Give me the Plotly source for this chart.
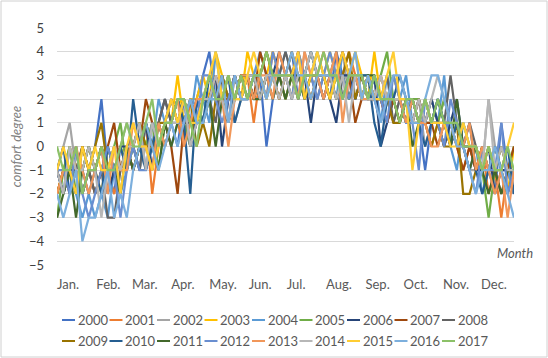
import plotly.graph_objects as go

# day-of-year sampling (every 5 days)
DAYS = list(range(1, 366, 5))  # 73 samples

MONTH_LABELS = ["Jan.", "Feb.", "Mar.", "Apr.", "May.", "Jun.", "Jul.", "Aug.", "Sep.", "Oct.", "Nov.", "Dec."]
MONTH_START = [1, 32, 60, 91, 121, 152, 182, 213, 244, 274, 305, 335]
Y_TICKS = [-5, -4, -3, -2, -1, 0, 1, 2, 3, 4, 5]

YEARS = [str(y) for y in range(2000, 2018)]
COLORS = ["#4472C4", "#ED7D31", "#A5A5A5", "#FFC000", "#5B9BD5", "#70AD47",
          "#264478", "#9E480E", "#636363", "#997300", "#255E91", "#43682B",
          "#698ED0", "#F1975A", "#B7B7B7", "#FFCD33", "#7CAFDD", "#8CC168"]

y2000 = [-1,-2,0,-1,-2,-1, 0,2,-1,-2,0,-1, 0,1,-1,0,1,0, 1,0,2,1,2,3, 4,2,3,1,2,3, 3,2,3,0,2,3,
         3,4,2,3,4,3, 3,2,4,3,3,2, 3,2,2,1,2,3, 2,1,2,1,-1,1, 2,1,0,1,0,-1, 0,-1,-1,-2,1,-1,-2]
y2001 = [-2,-1,-1,0,-2,-1, -1,0,-1,-2,-1,0, -1,0,1,-2,0,1, 2,1,0,2,1,2, 2,3,2,1,3,2, 3,1,3,2,4,3,
         2,3,4,3,2,3, 4,3,2,3,4,3, 2,3,2,2,1,2, 1,2,1,2,1,0, 1,0,1,0,-1,0, -1,0,-2,-1,-3,-1,-2]
y2002 = [-1,0,1,-1,-2,-1, -2,-1,0,-1,0,1, 0,-1,0,1,0,1, 1,2,1,0,1,2, 3,2,2,3,1,2, 2,3,3,4,3,2,
         3,3,2,4,3,3, 2,3,3,4,2,3, 3,2,3,2,2,1, 2,1,1,2,0,1, 1,2,1,0,0,-1, -1,-1,2,0,-1,-2,-1]
y2003 = [-2,-1,0,-1,-1,0, -1,-2,0,-1,0,-1, 0,1,0,-1,1,0, 1,3,1,2,2,3, 2,4,3,2,3,2, 4,3,2,3,4,3,
         3,2,4,3,3,4, 3,4,3,2,3,4, 3,2,4,2,2,3, 2,2,1,1,1,2, 1,0,1,1,0,0, -1,0,-1,0,-1,-2,0]
y2004 = [-1,-2,-1,-2,-3,-2, -3,-2,-3,-1,-2,-1, 0,-1,1,0,2,1, 0,1,2,1,3,2, 1,4,2,3,2,3, 2,3,4,3,2,3,
         4,3,3,2,3,4, 3,3,2,4,3,3, 2,2,3,1,3,2, 2,3,1,2,1,2, 1,3,0,-1,1,0, 0,-2,-1,0,-1,-1,-2]
y2005 = [-3,-1,0,-2,-1,0, -1,0,-1,0,1,-1, 0,1,0,1,-1,1, 1,2,1,0,2,1, 2,2,3,2,3,2, 3,2,3,4,3,3,
         2,3,3,3,4,3, 3,2,3,3,2,3, 3,3,2,3,4,2, 2,1,2,2,1,1, 1,2,1,0,1,0, 0,-1,-3,-1,0,-1,0]
y2006 = [-1,-2,-1,0,-2,-1, -1,0,-2,-1,0,0, -1,0,1,-1,1,2, 1,1,2,0,1,2, 2,3,0,2,3,2, 3,3,2,3,3,4,
         3,2,3,3,1,3, 3,2,1,3,3,2, 3,2,3,0,1,2, 2,1,2,1,1,2, 1,0,1,2,0,0, -1,-1,0,-2,-1,-1,-1]
y2007 = [-2,-1,-2,-1,0,-1, -2,-1,0,1,-1,0, -1,0,2,1,0,1, 0,-2,1,2,1,2, 2,3,2,2,3,2, 3,2,4,3,3,2,
         3,3,4,2,3,3, 2,3,3,4,3,1, 2,3,2,2,1,2, 1,2,1,2,1,1, 0,1,1,0,-1,0, -1,0,-1,-1,-2,-1,0]
y2008 = [-1,-2,-1,-1,0,-1, -2,-1,-3,-3,-1,0, 0,-1,1,0,1,2, 1,2,1,1,2,1, 2,1,3,2,2,3, 3,2,3,2,3,3,
         4,3,2,3,3,2, 3,3,4,2,3,3, 2,3,2,2,3,1, 2,2,1,1,2,1, 2,1,3,1,0,1, 0,-1,0,-1,-1,-2,-1]
y2009 = [-2,-1,-1,-2,0,-1, 0,1,-1,0,-1,0, 0,1,0,0,1,1, 2,1,1,2,0,1, 0,2,3,2,2,3, 2,3,3,4,3,2,
         3,4,3,3,2,3, 3,2,3,3,4,2, 3,2,2,3,2,1, 1,2,2,1,1,0, 1,0,0,1,-2,-2, -1,0,-1,-1,0,-1,-1]
y2010 = [-1,0,-2,-1,-1,-2, -1,-2,0,-1,0,-1, 2,0,-1,0,1,0, 1,2,1,-2,2,1, 3,2,2,3,1,2, 2,3,2,3,3,3,
         3,3,2,3,4,3, 2,3,3,2,3,3, 3,3,1,0,2,2, 3,2,2,1,0,1, 2,1,0,1,0,1, -1,-2,-1,0,-1,0,-2]
y2011 = [-3,-2,-1,-3,-1,0, -1,0,-1,-1,-2,0, -1,0,1,0,-1,1, 0,1,2,1,1,2, 2,0,2,1,2,3, 3,2,2,3,2,3,
         2,3,3,2,3,3, 3,3,2,3,2,3, 2,3,3,2,2,2, 1,2,0,1,2,1, 1,1,0,2,0,-1, 0,-1,-2,-1,-2,-1,-1]
y2012 = [-1,-1,-2,0,-2,-3, -2,-1,0,-1,-3,-1, 0,-1,-1,1,0,1, 2,1,1,2,1,3, 3,2,1,2,3,2, 2,3,3,2,4,3,
         3,2,4,3,3,2, 3,4,3,3,2,3, 2,2,3,2,1,3, 2,1,1,-1,2,1, 1,0,2,1,0,-1, -2,0,-1,-1,1,-2,-1]
y2013 = [-2,-1,-1,0,-1,-2, -1,0,-2,0,-1,-1, 1,0,0,-1,1,0, 1,2,0,1,2,2, 3,2,2,0,2,3, 3,2,3,3,2,4,
         3,3,2,4,3,3, 2,3,4,1,3,3, 2,2,2,3,2,2, 2,1,2,1,1,0, 0,1,1,0,0,1, -1,0,-1,-2,-1,-3,-1]
y2014 = [-1,-2,0,-1,-1,0, -1,-3,-1,0,-1,0, 0,1,-1,1,0,1, 1,1,2,0,1,2, 2,3,2,1,2,2, 3,3,2,3,3,2,
         3,2,3,3,4,3, 3,3,2,3,1,3, 3,2,2,3,2,2, 2,2,1,2,1,2, 3,2,1,0,1,0, 0,-1,2,-1,0,-1,-1]
y2015 = [-1,0,-1,-2,0,-1, 0,-1,-1,0,-2,0, 1,0,0,-1,0,1, 2,1,2,1,1,2, 3,4,2,3,2,2, 3,4,3,2,3,3,
         3,3,4,2,3,4, 3,2,3,4,3,4, 2,3,2,2,3,4, 2,2,-1,1,2,1, 1,1,0,0,1,0, 0,-1,0,-1,-1,0,1]
y2016 = [-2,-3,-2,-1,-4,-3, -3,-2,-1,-3,-2,-3, -1,0,1,0,-1,0, 1,0,1,2,1,1, 2,2,3,1,3,2, 2,3,3,2,3,3,
         3,4,3,3,2,3, 3,3,3,2,3,4, 2,3,2,1,2,3, 3,2,1,1,2,3, 3,2,1,0,0,-1, -2,-1,-1,0,-1,-2,-3]
y2017 = [0,-1,-1,0,-2,-1, -1,0,-1,-1,0,1, 0,0,1,2,0,1, 1,2,2,1,0,2, 3,2,2,3,2,3, 2,3,3,4,3,3,
         3,3,2,3,3,3, 4,3,3,2,3,3, 3,2,3,2,2,2, 1,2,2,1,2,1, 2,1,1,1,0,0, 0,-1,0,-1,-1,0,-1]

SERIES = [y2000, y2001, y2002, y2003, y2004, y2005, y2006, y2007, y2008,
          y2009, y2010, y2011, y2012, y2013, y2014, y2015, y2016, y2017]

W, H = 548, 358
L, R, T, B = 57, 34, 28, 93
PW, PH = W - L - R, H - T - B


def px(x):
    return (x - L) / PW


def py(y):
    return (H - B - y) / PH


fig = go.Figure()
for name, vals, col in zip(YEARS, SERIES, COLORS):
    fig.add_trace(go.Scatter(x=DAYS, y=vals, mode="lines", name=name,
                             line=dict(color=col, width=2.2), showlegend=False))

FONT = "Lato, 'Open Sans', sans-serif"
fig.update_layout(
    width=W, height=H,
    margin=dict(l=L, r=R, t=T, b=B, autoexpand=False),
    paper_bgcolor="white", plot_bgcolor="white",
    font=dict(family=FONT, size=13, color="#595959"),
    xaxis=dict(range=[DAYS[0], DAYS[-1]], tickvals=MONTH_START, ticktext=MONTH_LABELS,
               ticklabelposition="outside right", showgrid=False, zeroline=False,
               showline=False, ticks="", ticklabelstandoff=10,
               tickfont=dict(size=13, color="#595959")),
    yaxis=dict(range=[-5, 5], tickvals=Y_TICKS, showgrid=True, gridcolor="#D9D9D9",
               gridwidth=1, zeroline=False, showline=False, ticks="",
               ticklabelstandoff=12, tickfont=dict(size=13, color="#404040"),
               title=dict(text="comfort degree", standoff=4,
                          font=dict(size=13, color="#7F7F7F", style="italic"))),
)

# axis title "Month"
fig.add_annotation(text="Month", xref="paper", yref="paper", x=px(515), y=py(253),
                   xanchor="center", yanchor="middle", showarrow=False,
                   font=dict(size=13, color="#595959", style="italic"))

# outer border
fig.add_shape(type="rect", xref="paper", yref="paper", x0=px(1), x1=px(547), y0=py(357), y1=py(1),
              line=dict(color="#D0D0D0", width=1), fillcolor="rgba(0,0,0,0)", layer="below")

# manual legend, two rows of nine
for k, (name, col) in enumerate(zip(YEARS, COLORS)):
    row, colidx = divmod(k, 9)
    x0 = 62 + 47.5 * colidx
    yy = 320 + 21 * row
    fig.add_shape(type="line", xref="paper", yref="paper", x0=px(x0), x1=px(x0 + 13),
                  y0=py(yy), y1=py(yy), line=dict(color=col, width=2))
    fig.add_annotation(text=name, xref="paper", yref="paper", x=px(x0 + 13.5), y=py(yy),
                       xanchor="left", yanchor="middle", showarrow=False,
                       font=dict(size=13, color="#595959"))

fig.write_html("out.html", config={"displayModeBar": False},
               post_script="document.body.style.margin='0';document.body.style.overflow='hidden';")
